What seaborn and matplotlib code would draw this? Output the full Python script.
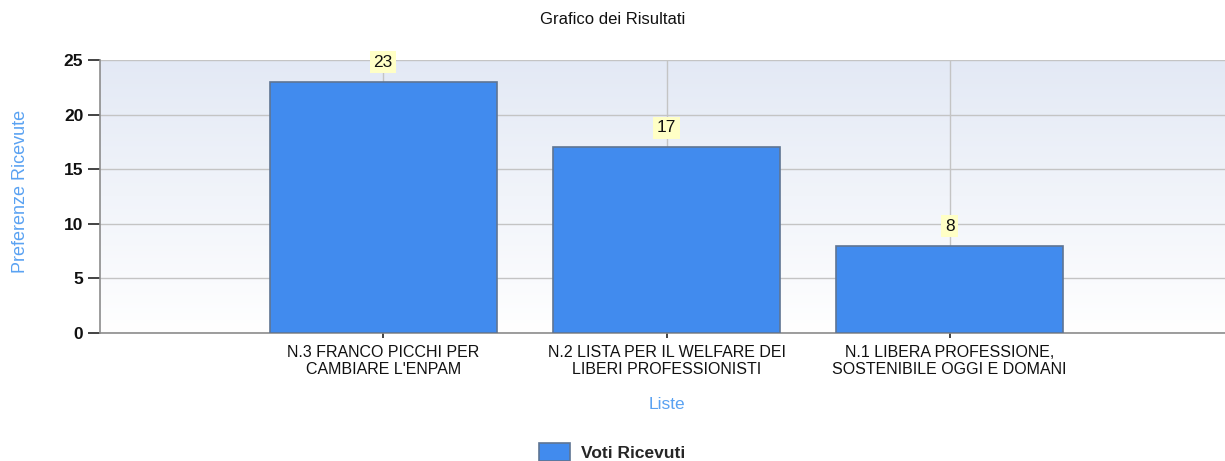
import numpy as np
import pandas as pd
import matplotlib
matplotlib.use("Agg")
import matplotlib.pyplot as plt
import seaborn as sns
from matplotlib.colors import LinearSegmentedColormap

categories = ["N.3 FRANCO PICCHI PER\nCAMBIARE L'ENPAM",
              "N.2 LISTA PER IL WELFARE DEI\nLIBERI PROFESSIONISTI",
              "N.1 LIBERA PROFESSIONE,\nSOSTENIBILE OGGI E DOMANI"]
values = [23, 17, 8]
y_ticks = [0, 5, 10, 15, 20, 25]
series_name = "Voti Ricevuti"

sns.set_theme(style="white")
plt.rcParams['font.family'] = ['Liberation Sans', 'DejaVu Sans']

df = pd.DataFrame({"Liste": categories, "Voti": values})

fig = plt.figure(figsize=(12.25, 4.61), dpi=100)
ax = fig.add_axes([100/1225, 1-333/461, 1133/1225, 273/461])

# gradient background
grad = np.linspace(0, 1, 256).reshape(-1, 1)
cmap = LinearSegmentedColormap.from_list("bg", ["#ffffff", "#e3e9f5"])
ax.imshow(grad, aspect="auto", cmap=cmap, origin="lower",
          extent=[0, 1, 0, 1], transform=ax.transAxes, zorder=0)

sns.barplot(data=df, x="Liste", y="Voti", color="#418bee", edgecolor="#5f7593",
            linewidth=1.2, width=0.8, saturation=1, ax=ax, zorder=3,
            label=series_name)

ax.set_xlim(-1, 3)
ax.set_ylim(0, 25)
ax.set_yticks(y_ticks)
ax.grid(True, color="#c4c4c4", linewidth=1.0, zorder=1)
ax.set_axisbelow(True)

for s in ["top", "right"]:
    ax.spines[s].set_visible(False)
for s in ["left", "bottom"]:
    ax.spines[s].set_color("#8c8c8c")
    ax.spines[s].set_linewidth(1.2)

ax.tick_params(axis="y", direction="out", length=9, width=1.2, color="#222222",
               labelsize=12.5, pad=3, left=True)
ax.tick_params(axis="x", direction="inout", length=7, width=1.2, color="#222222",
               labelsize=11.5, pad=5, bottom=True)
for lab in ax.get_yticklabels():
    lab.set_fontweight("bold")
    lab.set_color("#111111")
for lab in ax.get_xticklabels():
    lab.set_color("#111111")
    lab.set_linespacing(1.2)

for i, v in enumerate(values):
    ax.annotate(str(v), (i, v), xytext=(0, 14), textcoords="offset points",
                ha="center", va="center", fontsize=12.5, color="#111111", zorder=5,
                bbox=dict(boxstyle="square,pad=0.2", fc="#ffffc6", ec="none"))

ax.set_xlabel("Liste", color="#5aa2f2", fontsize=12.5, labelpad=14)
ax.set_ylabel("Preferenze Ricevute", color="#5aa2f2", fontsize=13)
ax.yaxis.set_label_coords(-0.063, 0.52)

fig.suptitle("Grafico dei Risultati", fontsize=12, y=1-20/461, va="center", color="#111111")

leg = ax.legend(loc="center", bbox_to_anchor=(612/1225, 1-452/461),
                bbox_transform=fig.transFigure, frameon=False,
                prop={"weight": "bold", "size": 12.5}, handlelength=1.8,
                handleheight=1.3, handletextpad=0.6)

fig.savefig("out.png", dpi=100)
